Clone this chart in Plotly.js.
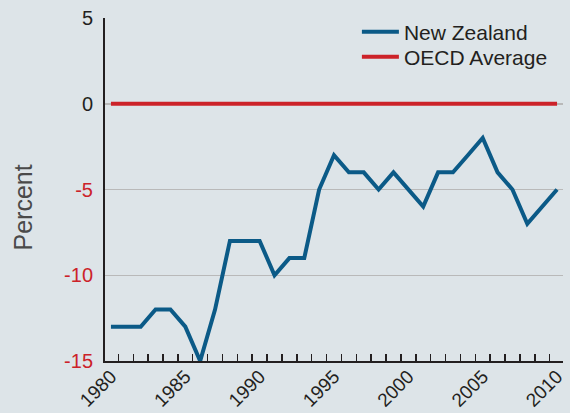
<!DOCTYPE html>
<html>
<head>
<meta charset="utf-8">
<script src="https://cdn.plot.ly/plotly-3.0.1.min.js"></script>
<style>html,body{margin:0;padding:0;background:#dde4e8;}#chart{width:570px;height:413px;}</style>
</head>
<body>
<div id="chart"></div>
<script>
const years = [1980,1981,1982,1983,1984,1985,1986,1987,1988,1989,1990,1991,1992,1993,1994,1995,1996,1997,1998,1999,2000,2001,2002,2003,2004,2005,2006,2007,2008,2009,2010];
const newZealand = [-13,-13,-13,-12,-12,-13,-15,-12,-8,-8,-8,-10,-9,-9,-5,-3,-4,-4,-5,-4,-5,-6,-4,-4,-3,-2,-4,-5,-7,-6,-5];
const oecdAverage = [0,0,0,0,0,0,0,0,0,0,0,0,0,0,0,0,0,0,0,0,0,0,0,0,0,0,0,0,0,0,0];
const yTickVals = [-15,-10,-5,0,5];
const yTickText = ['<span style="color:#cc2229">-15</span>','<span style="color:#cc2229">-10</span>','<span style="color:#cc2229">-5</span>','0','5'];
const xTickVals = [1980,1985,1990,1995,2000,2005,2010];
const xTickText = ['1980','1985','1990','1995','2000','2005','2010'];
const yTitle = 'Percent';

const ink = '#231f20';
const traces = [
  {x: years, y: newZealand, name: 'New Zealand', type: 'scatter', mode: 'lines',
   line: {color: '#0b5a87', width: 4}, legend: 'legend'},
  {x: years, y: oecdAverage, name: 'OECD Average', type: 'scatter', mode: 'lines',
   line: {color: '#cc2229', width: 4}, legend: 'legend2'}
];
const legendBase = {xanchor: 'left', yanchor: 'middle', bgcolor: 'rgba(0,0,0,0)',
                    font: {size: 21, color: ink}, itemwidth: 37};
const layout = {
  width: 570, height: 413,
  paper_bgcolor: '#dde4e8', plot_bgcolor: '#dde4e8',
  margin: {l: 105, r: 7, t: 18, b: 52},
  font: {family: '"Liberation Sans", Arial, sans-serif', color: ink},
  showlegend: true,
  legend: Object.assign({x: 0.550, y: 0.959}, legendBase),
  legend2: Object.assign({x: 0.550, y: 0.886}, legendBase),
  xaxis: {
    range: [1979.6, 2010.4], tickmode: 'array', tickvals: xTickVals, ticktext: xTickText,
    tickangle: -45, ticks: '', showgrid: false, zeroline: false,
    showline: true, linecolor: ink, linewidth: 2,
    tickfont: {size: 19, color: ink}, ticklabelstandoff: -5,
    minor: {ticks: 'inside', tick0: 1980.5, dtick: 1, ticklen: 7, tickwidth: 1.5, tickcolor: ink, showgrid: false}
  },
  yaxis: {
    range: [-15, 5], tickmode: 'array', tickvals: yTickVals, ticktext: yTickText,
    ticks: '', showgrid: true, gridcolor: '#b9b9b9', gridwidth: 1.5, zeroline: false,
    showline: true, linecolor: ink, linewidth: 2,
    tickfont: {size: 20, color: ink}, ticklabelstandoff: 6
  },
  annotations: [{
    text: yTitle, textangle: -90, showarrow: false,
    xref: 'paper', yref: 'paper', x: (22 - 105) / 458, y: 1 - (207.5 - 18) / 343,
    xanchor: 'center', yanchor: 'middle',
    font: {size: 25, color: '#4a4a4a', family: '"Liberation Sans", Arial, sans-serif'}
  }]
};
Plotly.newPlot('chart', traces, layout, {displayModeBar: false, staticPlot: true});
</script>
</body>
</html>
